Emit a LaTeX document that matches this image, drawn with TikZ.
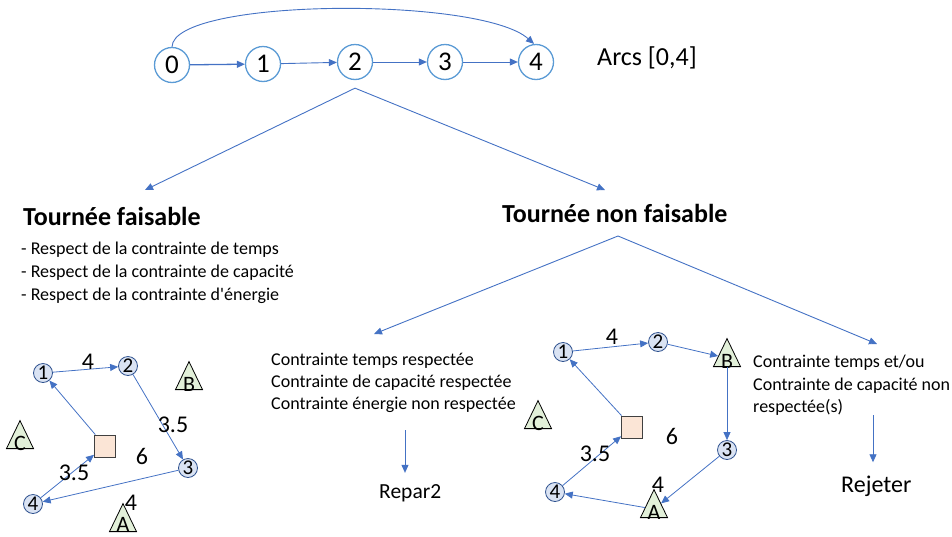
\documentclass[tikz,border=0pt]{standalone}
\usepackage{fontspec}
\setmainfont{Carlito}
\usetikzlibrary{arrows.meta,shapes.geometric,calc}
\definecolor{cblue}{HTML}{4472C4}
\definecolor{lblue}{HTML}{5B9BD5}
\definecolor{nfill}{HTML}{DAE3F3}
\definecolor{nedge}{HTML}{2F528F}
\definecolor{tfill}{HTML}{E2F0D9}
\definecolor{sfill}{HTML}{FBE5D6}
\tikzset{
  big/.style={circle, draw=lblue, line width=1.3pt, fill=white, minimum size=35pt, inner sep=0pt, font=\fontsize{27}{30}\selectfont},
  arr/.style={draw=cblue, line width=0.9pt, -{Triangle[length=8pt,width=7pt]}},
  sm/.style={circle, draw=nedge, fill=nfill, line width=0.8pt, minimum size=19pt, inner sep=0pt, font=\fontsize{21}{22}\selectfont},
  tri/.style={isosceles triangle, isosceles triangle stretches, shape border rotate=90, minimum width=27pt, minimum height=28pt, inner sep=0pt, draw=black, fill=tfill, line width=0.8pt, anchor=south},
  lett/.style={anchor=south, inner sep=0pt, yshift=-2pt, font=\fontsize{22}{22}\selectfont},
  sqr/.style={rectangle, draw=black!75, fill=sfill, minimum width=21pt, minimum height=22pt, inner sep=0pt, line width=0.9pt},
  num/.style={font=\fontsize{24}{26}\selectfont, inner sep=0pt},
  txt/.style={font=\fontsize{18}{22}\selectfont, inner sep=0pt, anchor=base west},
  ttl/.style={font=\fontsize{26}{30}\selectfont\bfseries, inner sep=0pt, anchor=base west},
}
\begin{document}
\begin{tikzpicture}[x=1pt,y=-1pt]
\useasboundingbox (0,0) rectangle (952,536);
% top chain
\node[big] (n0) at (172,65) {0};
\node[big] (n1) at (263,64) {1};
\node[big] (n2) at (355,62) {2};
\node[big] (n3) at (445,62) {3};
\node[big] (n4) at (536,62) {4};
\draw[arr, line width=1.3pt] (n0) -- (n1);
\draw[arr] (n1) -- (n2);
\draw[arr] (n2) -- (n3);
\draw[arr] (n3) -- (n4);
\draw[arr] (n0.north) .. controls (173,-2) and (480,-4) .. ([xshift=-2pt]n4.north);
\node[font=\fontsize{26}{30}\selectfont, inner sep=0pt, anchor=base west] (arcs) at (597,65) {Arcs [0,4]};
% first split
\coordinate (s1) at ([yshift=-8pt]n2.south);
\coordinate (t1) at (145,190);
\coordinate (t2) at (605,190);
\draw[arr] (s1) -- (t1);
\draw[arr] (s1) -- (t2);
\node[ttl] (tf) at (23,225) {Tournée faisable};
\node[ttl] (tnf) at (502,222) {Tournée non faisable};
\node[txt] (b1) at (21,254) {- Respect de la contrainte de temps};
\node[txt] (b2) at (21,277) {- Respect de la contrainte de capacité};
\node[txt] (b3) at (21,300) {- Respect de la contrainte d\textquotesingle énergie};
% second split
\coordinate (s2) at (618,236);
\coordinate (t3) at (374,334);
\coordinate (t4) at (877,344);
\draw[arr] (s2) -- (t3);
\draw[arr] (s2) -- (t4);
\node[txt] (c1) at (271,365) {Contrainte temps respectée};
\node[txt] (c2) at (271,387) {Contrainte de capacité respectée};
\node[txt] (c3) at (271,409) {Contrainte énergie non respectée};
\node[txt] (d1) at (753,367) {Contrainte temps et/ou};
\node[txt] (d2) at (753,390) {Contrainte de capacité non};
\node[txt] (d3) at (753,412) {respectée(s)};
\node[font=\fontsize{21.5}{24}\selectfont, inner sep=0pt, anchor=base west] (rep) at (379,498) {Repar2};
\node[font=\fontsize{24}{28}\selectfont, inner sep=0pt, anchor=base west] (rej) at (841,492) {Rejeter};
\coordinate (a1) at (405,430);
\coordinate (a2) at (873,415);
\draw[arr, shorten >=11pt] (a1) -- (a1 |- rep.north);
\draw[arr, shorten >=13pt] (a2) -- (a2 |- rej.north);
% left mini graph
\node[tri, label={[lett]south:B}] (lB) at (189,390) {};
\node[tri, label={[lett]south:C}] (lC) at (20,449) {};
\node[tri, label={[lett, yshift=2pt]south:A}] (lA) at (123,532) {};
\node[sqr] (lsq) at (105,446) {};
\node[sm] (l1) at (43,373) {1};
\node[sm] (l2) at (128,366) {2};
\node[sm] (l3) at (188,468) {3};
\node[sm] (l4) at (33,504) {4};
\draw[arr, line width=0.8pt] (lsq) -- (l1);
\draw[arr, line width=0.8pt] (l1) -- (l2);
\draw[arr, line width=0.8pt] (l2) -- (l3);
\draw[arr, line width=0.8pt] (l3) -- (l4);
\draw[arr, line width=0.8pt] (l4) -- (lsq);
\node[num] (lw1) at (88,362) {4};
\node[num] (lw2) at (173,425) {3.5};
\node[num] (lw3) at (142,456) {6};
\node[num] (lw4) at (74,473) {3.5};
\node[num] (lw5) at (131,503) {4};
% right mini graph
\node[tri, label={[lett]south:B}] (rB) at (727,367) {};
\node[tri, label={[lett]south:C}] (rC) at (538,429) {};
\node[tri, label={[lett]south:A}] (rA) at (654,518) {};
\node[sqr] (rsq) at (632,427) {};
\node[sm] (r1) at (563,352) {1};
\node[sm] (r2) at (658,342) {2};
\node[sm] (r3) at (727,450) {3};
\node[sm] (r4) at (555,492) {4};
\draw[arr, line width=0.8pt] (rsq) -- (r1);
\draw[arr, line width=0.8pt] (r1) -- (r2);
\draw[arr, line width=0.8pt] (r2) -- (rB);
\draw[arr, line width=0.8pt] (rB) -- (r3);
\draw[arr, line width=0.8pt] (r3) -- (rA);
\draw[arr, line width=0.8pt] (rA) -- (r4);
\draw[arr, line width=0.8pt] (r4) -- (rsq);
\node[num] (rw1) at (612,337) {4};
\node[num] (rw2) at (595,454) {3.5};
\node[num] (rw3) at (672,436) {6};
\node[num] (rw4) at (658,485) {4};
\end{tikzpicture}
\end{document}
